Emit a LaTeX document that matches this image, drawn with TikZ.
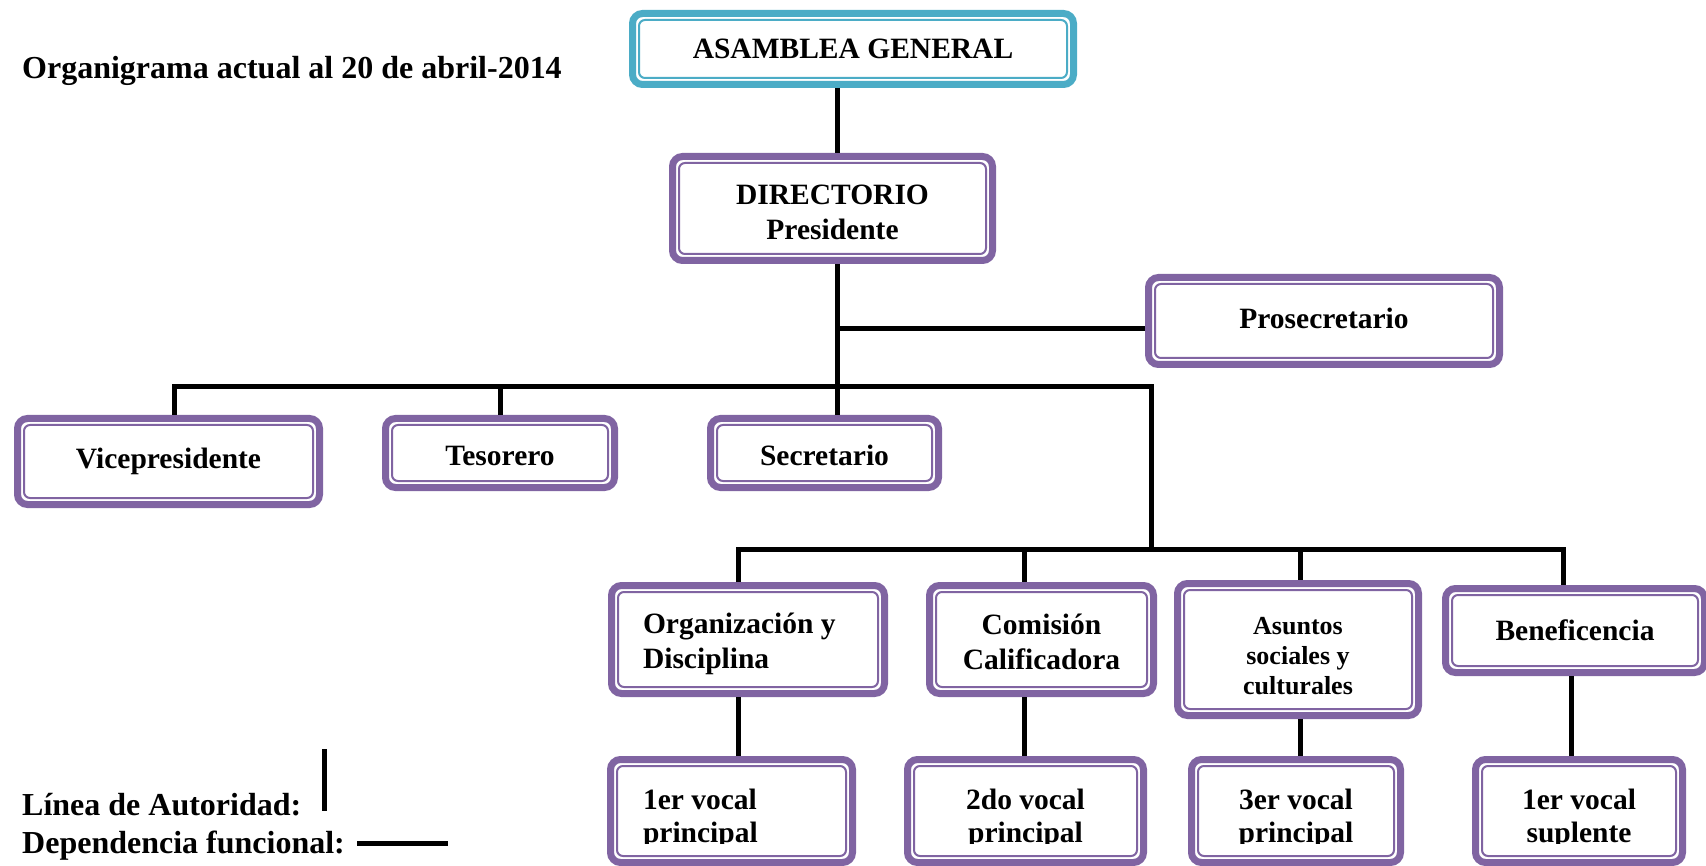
\documentclass[tikz,border=0pt]{standalone}
\usepackage{fontspec}
\setmainfont{Liberation Serif}
\usetikzlibrary{calc}
\definecolor{turquesa}{HTML}{4BACC6}
\definecolor{violeta}{HTML}{8064A2}
\newcommand\fcaja{\fontsize{29.5}{35}\selectfont\bfseries}
\newcommand\fvocal{\fontsize{29.5}{33}\selectfont\bfseries}
\newcommand\fleyenda{\fontsize{32}{38}\selectfont\bfseries}
\newcommand\bajar[1]{\rule{0pt}{#1}}
\tikzset{
  cargo/.style={draw=#1, line width=7pt, rounded corners=10pt, fill=white, inner sep=0pt, align=center, font=\fcaja,
    path picture={\draw[#1, line width=2pt, rounded corners=6pt]
      ([shift={(6.5pt,-6.5pt)}]path picture bounding box.north west) rectangle
      ([shift={(-6.5pt,6.5pt)}]path picture bounding box.south east);}},
  cargo/.default=violeta,
  linea/.style={line width=5pt},
}

\begin{document}
\begin{tikzpicture}[x=1pt,y=-1pt]
		%%%%% START %%%%%
		\useasboundingbox (0,0) rectangle (1706,866);
		
		\node[anchor=base west, font=\fleyenda, inner sep=0pt] (titulo) at (22,79) {Organigrama actual al 20 de abril-2014};
		
		\node[cargo=turquesa, minimum width=441pt, minimum height=71pt] (asamblea) at (853,49) {ASAMBLEA GENERAL};
		\node[cargo, minimum width=320pt, minimum height=104pt] (directorio) at (832.5,208.5) {\bajar{27pt}DIRECTORIO\\Presidente};
		\node[cargo, minimum width=351pt, minimum height=87pt] (prosecretario) at (1324,321) {Prosecretario\rule[-5pt]{0pt}{5pt}};
		
		\node[cargo, minimum width=302pt, minimum height=86pt] (vice) at (168.5,461.5) {Vicepresidente};
		\node[cargo, minimum width=229pt, minimum height=69pt] (tesorero) at (500,453) {\bajar{25pt}Tesorero};
		\node[cargo, minimum width=228pt, minimum height=69pt] (secretario) at (824.5,453) {\bajar{25pt}Secretario};
		
		\node[cargo, minimum width=273pt, minimum height=108pt, text width=210pt, align=flush left] (organizacion) at (748,639.5) {\bajar{29pt}Organización y\\Disciplina};
		\node[cargo, minimum width=224pt, minimum height=108pt] (comision) at (1041.5,639.5) {\bajar{25pt}Comisión\\Calificadora};
		\node[cargo, minimum width=241pt, minimum height=132pt, font=\fontsize{26}{30}\selectfont\bfseries] (asuntos) at (1298,649.5) {\bajar{31pt}Asuntos\\sociales y\\culturales};
		\node[cargo, minimum width=259pt, minimum height=84pt] (beneficencia) at (1575,630.5) {Beneficencia};
		
		\node[cargo, minimum width=242pt, minimum height=103pt] (vocal1) at (731.5,811) {};
		\node[cargo, minimum width=236pt, minimum height=103pt] (vocal2) at (1025.5,811) {};
		\node[cargo, minimum width=209pt, minimum height=103pt] (vocal3) at (1296,811) {};
		\node[cargo, minimum width=207pt, minimum height=103pt] (suplente) at (1579,811) {};
		
		% texto recortado de las cajas de abajo
		\begin{scope}
			\clip (0,756) rectangle (1706,843);
			\node[font=\fvocal, inner sep=0pt, text width=177pt, align=flush left] (tvocal1) at (731.5,819) {1er vocal\\principal};
			\node[font=\fvocal, inner sep=0pt, align=center] (tvocal2) at (1025.5,819) {2do vocal\\principal};
			\node[font=\fvocal, inner sep=0pt, align=center] (tvocal3) at (1296,819) {3er vocal\\principal};
			\node[font=\fvocal, inner sep=0pt, align=center] (tsuplente) at (1579,819) {1er vocal\\suplente};
		\end{scope}
		
		\coordinate (eje) at (837,0);
		\coordinate (rama) at (837,329);
		\coordinate (bus) at (174,387);
		\coordinate (busfin) at (1151,387);
		\coordinate (bajada) at (1151,549);
		\coordinate (sub1) at (738,549);
		\coordinate (sub2) at (1024,549);
		\coordinate (sub3) at (1300,549);
		\coordinate (sub4) at (1563,549);
		\coordinate (baja4) at (1571,0);
		
		\draw[linea] (asamblea.south -| eje) -- (directorio.north -| eje);
		\draw[linea] (directorio.south -| eje) -- (secretario.north -| eje);
		\draw[linea] (rama) -- (rama -| prosecretario.west);
		\draw[linea] (bus |- vice.north) -- (bus) -- (busfin) -- (bajada);
		\draw[linea] (tesorero.north |- bus) -- (tesorero.north);
		
		\draw[linea] (sub1 |- organizacion.north) -- (sub1) -- (sub4) -- (sub4 |- beneficencia.north);
		\draw[linea] (sub2) -- (sub2 |- comision.north);
		\draw[linea] (sub3) -- (sub3 |- asuntos.north);
		
		\draw[linea] (sub1 |- organizacion.south) -- (sub1 |- vocal1.north);
		\draw[linea] (sub2 |- comision.south) -- (sub2 |- vocal2.north);
		\draw[linea] (sub3 |- asuntos.south) -- (sub3 |- vocal3.north);
		\draw[linea] (baja4 |- beneficencia.south) -- (baja4 |- suplente.north);
		
		% leyenda
		\node[anchor=base west, font=\fleyenda, inner sep=0pt] (autoridad) at (22,815) {Línea de Autoridad:};
		\node[anchor=base west, font=\fleyenda, inner sep=0pt] (dependencia) at (22,853) {Dependencia funcional:};
		\coordinate (autoridad1) at (324,749);
		\coordinate (autoridad2) at (324,811);
		\coordinate (dependencia1) at (357,843);
		\coordinate (dependencia2) at (448,843);
		\draw[linea] (autoridad1) -- (autoridad2);
		\draw[linea] (dependencia1) -- (dependencia2);
		
		%%%%% END %%%%%
\end{tikzpicture}
\end{document}
